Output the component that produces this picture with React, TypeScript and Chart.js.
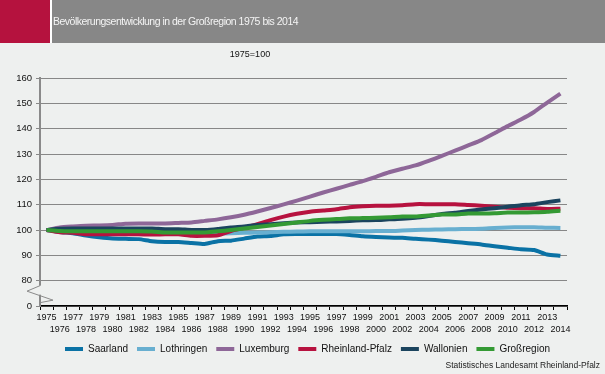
import React, { useEffect, useRef } from "react";
import { Chart, registerables } from "chart.js";

Chart.register(...registerables);

const years = [
  "1975", "1976", "1977", "1978", "1979", "1980", "1981", "1982", "1983", "1984",
  "1985", "1986", "1987", "1988", "1989", "1990", "1991", "1992", "1993", "1994",
  "1995", "1996", "1997", "1998", "1999", "2000", "2001", "2002", "2003", "2004",
  "2005", "2006", "2007", "2008", "2009", "2010", "2011", "2012", "2013", "2014",
];

const saarland = [
  100, 99.2, 98.7, 97.8, 97.1, 96.6, 96.5, 96.4, 95.6, 95.3,
  95.3, 94.9, 94.5, 95.6, 95.8, 96.6, 97.4, 97.6, 98.3, 98.4,
  98.4, 98.4, 98.4, 98.0, 97.5, 97.2, 97.0, 96.9, 96.5, 96.2,
  95.8, 95.3, 94.8, 94.3, 93.6, 93.0, 92.4, 92.1, 90.3, 89.8,
];
const lothringen = [
  100, 99.7, 99.5, 99.3, 99.2, 99.1, 99.0, 98.9, 98.8, 98.7,
  98.6, 98.6, 98.6, 98.6, 98.7, 98.9, 99.0, 99.1, 99.3, 99.4,
  99.5, 99.5, 99.5, 99.5, 99.5, 99.6, 99.6, 99.8, 100.0, 100.1,
  100.2, 100.3, 100.4, 100.5, 100.8, 101.0, 101.1, 101.1, 100.9, 100.8,
];
const luxemburg = [
  100, 101.0, 101.4, 101.7, 101.8, 102.0, 102.5, 102.6, 102.6, 102.6,
  102.8, 103.0, 103.6, 104.2, 105.0, 106.0, 107.3, 108.7, 110.1, 111.6,
  113.2, 114.8, 116.3, 117.8, 119.3, 121.0, 122.8, 124.2, 125.5, 127.3,
  129.3, 131.3, 133.4, 135.5, 138.2, 141.0, 143.6, 146.6, 150.3, 153.8,
];
const rheinlandPfalz = [
  100, 99.1, 98.9, 98.3, 98.3, 98.3, 98.3, 98.3, 98.2, 98.3,
  98.3, 97.7, 97.7, 97.9, 99.6, 100.9, 102.3, 103.9, 105.3, 106.4,
  107.2, 107.7, 108.2, 109.0, 109.4, 109.6, 109.6, 109.8, 110.2, 110.2,
  110.2, 110.2, 109.9, 109.6, 109.2, 108.8, 108.6, 108.6, 108.3, 108.4,
];
const wallonien = [
  100, 100.5, 100.6, 100.6, 100.6, 100.6, 100.6, 100.6, 100.6, 100.3,
  100.3, 100.0, 100.0, 100.4, 101.0, 101.4, 102.0, 102.3, 102.7, 103.0,
  103.1, 103.3, 103.4, 103.6, 103.8, 103.9, 104.2, 104.4, 104.8, 105.5,
  106.3, 106.8, 107.5, 108.1, 108.6, 109.2, 109.8, 110.2, 111.0, 111.7,
];
const grossregion = [
  100, 99.6, 99.5, 99.5, 99.5, 99.5, 99.5, 99.5, 99.4, 99.0,
  99.0, 99.0, 99.0, 99.5, 100.0, 100.6, 101.2, 101.8, 102.4, 103.0,
  103.6, 104.0, 104.3, 104.6, 104.7, 104.8, 105.0, 105.3, 105.3, 105.7,
  106.1, 106.1, 106.5, 106.5, 106.6, 106.9, 106.9, 107.0, 107.2, 107.6,
];

const seriesNames = ["Saarland", "Lothringen", "Luxemburg", "Rheinland-Pfalz", "Wallonien", "Großregion"];
const seriesData = [saarland, lothringen, luxemburg, rheinlandPfalz, wallonien, grossregion];
const seriesColors = ["#0a72a5", "#68afd0", "#8e6798", "#b7123f", "#1b445e", "#349a34"];

const yTicks = [70, 80, 90, 100, 110, 120, 130, 140, 150, 160];
const yTickLabels = ["0", "80", "90", "100", "110", "120", "130", "140", "150", "160"];

const FONT = "'Liberation Sans', Arial, sans-serif";
const BG = "#eef0ef";

const breakPlugin = {
  id: "axisBreak",
  afterLayout(chart: any) {
    if (chart.legend) {
      chart.legend.left += 24;
      chart.legend.right += 24;
    }
  },
  afterDraw(chart: any) {
    const ctx = chart.ctx;
    const y = chart.scales.y;
    const x0 = chart.chartArea.left;
    const y80 = y.getPixelForValue(80);
    ctx.save();
    ctx.fillStyle = BG;
    ctx.fillRect(x0 - 2, y80 + 5, 4, 9);
    ctx.strokeStyle = "#8a8a8a";
    ctx.lineWidth = 1;
    ctx.beginPath();
    ctx.moveTo(x0, y80 + 5);
    ctx.lineTo(x0 - 13, y80 + 10.5);
    ctx.lineTo(x0 + 13, y80 + 19.5);
    ctx.lineTo(x0, y80 + 22);
    ctx.stroke();
    ctx.restore();
  },
};

export default function App() {
  const ref = useRef<HTMLCanvasElement>(null);
  useEffect(() => {
    document.body.style.margin = "0";
    const chart = new Chart(ref.current!, {
      type: "line",
      data: {
        labels: years,
        datasets: seriesNames.map((name, i) => ({
          label: name,
          data: seriesData[i],
          borderColor: seriesColors[i],
          backgroundColor: seriesColors[i],
          borderWidth: 4,
          pointRadius: 0,
          tension: 0.2,
          order: seriesNames.length - i,
        })),
      },
      options: {
        responsive: false,
        animation: false,
        layout: { padding: { left: 0, right: 38, top: 78, bottom: 10 } },
        plugins: {
          legend: {
            position: "bottom",
            labels: {
              font: { family: FONT, size: 10 },
              color: "#111",
              boxWidth: 18,
              boxHeight: 4,
              padding: 9,
              sort: (a: any, b: any) => a.datasetIndex - b.datasetIndex,
              generateLabels: (c: any) => {
                const items = Chart.defaults.plugins.legend.labels.generateLabels(c);
                items.forEach((it: any) => {
                  it.lineWidth = 0;
                  it.strokeStyle = it.fillStyle;
                });
                return items;
              },
            },
          },
          tooltip: { enabled: false },
        },
        scales: {
          x: {
            offset: true,
            afterFit: (s: any) => {
              s.height = 29;
            },
            grid: {
              offset: true,
              drawOnChartArea: false,
              drawTicks: true,
              tickLength: 4,
              color: "#000",
            },
            border: { color: "#000", width: 1.5 },
            ticks: {
              autoSkip: false,
              maxRotation: 0,
              minRotation: 0,
              padding: 2,
              color: "#111",
              font: { family: FONT, size: 9, lineHeight: 1.3 },
              callback: (_v: any, i: number) => (i % 2 === 0 ? [years[i], ""] : ["", years[i]]),
            },
          },
          y: {
            min: 70,
            max: 160,
            afterFit: (s: any) => {
              s.width = 40;
            },
            afterBuildTicks: (s: any) => {
              s.ticks = yTicks.map((v) => ({ value: v }));
            },
            grid: {
              color: "#878787",
              lineWidth: 1,
              tickLength: 4,
            },
            border: { color: "#8a8a8a", width: 2 },
            ticks: {
              padding: 4,
              color: "#111",
              font: { family: FONT, size: 9.5 },
              callback: (v: any) => yTickLabels[yTicks.indexOf(Number(v))] ?? "",
            },
          },
        },
      },
      plugins: [breakPlugin],
    });
    return () => chart.destroy();
  }, []);

  return (
    <div
      style={{
        position: "relative",
        width: 605,
        height: 374,
        background: BG,
        fontFamily: FONT,
        overflow: "hidden",
      }}
    >
      <canvas ref={ref} width={605} height={374} style={{ position: "absolute", left: 0, top: 0 }} />
      <div style={{ position: "absolute", left: 0, top: 0, width: 605, height: 43, background: "#fff" }} />
      <div style={{ position: "absolute", left: 0, top: 0, width: 50, height: 43, background: "#b5123e" }} />
      <div
        style={{
          position: "absolute",
          left: 52,
          top: 0,
          width: 553,
          height: 43,
          background: "#878787",
          color: "#f4f4f4",
          fontSize: 10.5,
          letterSpacing: "-0.5px",
          lineHeight: "43px",
          paddingLeft: 1,
          boxSizing: "border-box",
        }}
      >
        Bevölkerungsentwicklung in der Großregion 1975 bis 2014
      </div>
      <div style={{ position: "absolute", left: 200, width: 100, top: 49, textAlign: "center", fontSize: 9, color: "#111" }}>
        1975=100
      </div>
      <div style={{ position: "absolute", right: 5, top: 360, fontSize: 8.5, color: "#222" }}>
        Statistisches Landesamt Rheinland-Pfalz
      </div>
    </div>
  );
}
